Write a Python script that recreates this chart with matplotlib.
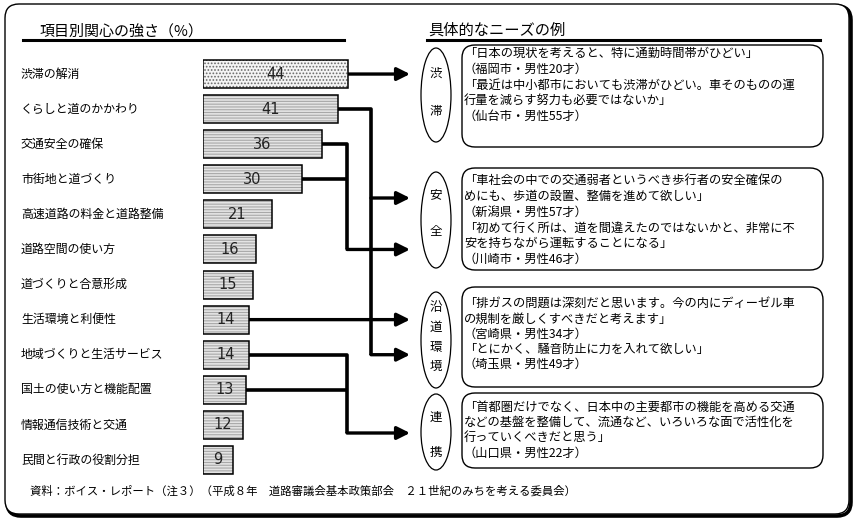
import matplotlib.pyplot as plt
from matplotlib.patches import FancyBboxPatch, Ellipse

plt.rcParams['font.family'] = ['Noto Sans CJK JP', 'DejaVu Sans']
plt.rcParams['hatch.linewidth'] = 0.8

# 項目別関心の強さ（%）
items = ['渋滞の解消', 'くらしと道のかかわり', '交通安全の確保', '市街地と道づくり',
         '高速道路の料金と道路整備', '道路空間の使い方', '道づくりと合意形成',
         '生活環境と利便性', '地域づくりと生活サービス', '国土の使い方と機能配置',
         '情報通信技術と交通', '民間と行政の役割分担']
values = [44, 41, 36, 30, 21, 16, 15, 14, 14, 13, 12, 9]

# 具体的なニーズの例
needs = ['渋滞', '安全', '沿道環境', '連携']
comments = [
    ['「日本の現状を考えると、特に通勤時間帯がひどい」',
     '（福岡市・男性20才）',
     '「最近は中小都市においても渋滞がひどい。車そのものの運',
     '行量を減らす努力も必要ではないか」',
     '（仙台市・男性55才）'],
    ['「車社会の中での交通弱者というべき歩行者の安全確保の',
     'めにも、歩道の設置、整備を進めて欲しい」',
     '（新潟県・男性57才）',
     '「初めて行く所は、道を間違えたのではないかと、非常に不',
     '安を持ちながら運転することになる」',
     '（川崎市・男性46才）'],
    ['「排ガスの問題は深刻だと思います。今の内にディーゼル車',
     'の規制を厳しくすべきだと考えます」',
     '（宮崎県・男性34才）',
     '「とにかく、騒音防止に力を入れて欲しい」',
     '（埼玉県・男性49才）'],
    ['「首都圏だけでなく、日本中の主要都市の機能を高める交通',
     'などの基盤を整備して、流通など、いろいろな面で活性化を',
     '行っていくべきだと思う」',
     '（山口県・男性22才）'],
]
source = '資料：ボイス・レポート（注３）（平成８年　道路審議会基本政策部会　２１世紀のみちを考える委員会）'

W, H = 857, 522
fig = plt.figure(figsize=(W / 100, H / 100), dpi=100)
ov = fig.add_axes([0, 0, 1, 1])
ov.set_xlim(0, W)
ov.set_ylim(H, 0)
ov.axis('off')

# outer frame with shadow on right / bottom
ov.add_patch(FancyBboxPatch((7, 6), 844, 510, boxstyle='round,pad=0,rounding_size=14',
                            fc='none', ec='k', lw=2.6, zorder=0))
ov.add_patch(FancyBboxPatch((5, 4), 844, 510, boxstyle='round,pad=0,rounding_size=14',
                            fc='white', ec='k', lw=1.0, zorder=0.5))

# titles
ov.text(40, 31, '項目別関心の強さ（%）', fontsize=10.8, va='center', ha='left')
ov.plot([23, 344], [40, 40], color='k', lw=2.2)
ov.text(428, 30, '具体的なニーズの例', fontsize=11, va='center', ha='left')
ov.plot([427, 820], [40, 40], color='k', lw=2.2)

# bar chart
axb = fig.add_axes([203 / W, (H - 477.5) / H, 165 / W, 421 / H])
axb.set_xlim(0, 50)
axb.set_ylim(len(values) - 0.5, -0.5)
axb.axis('off')
ypos = range(len(values))
fills = ['#f4f4f4'] + ['#e4e4e4'] * (len(values) - 1)
hatch_col = ['#6a6a6a'] + ['#a8a8a8'] * (len(values) - 1)
hatches = ['.....'] + ['------'] * (len(values) - 1)
for i, v in enumerate(values):
    axb.barh(i, v, height=0.8, color=fills[i], edgecolor=hatch_col[i], lw=0,
             hatch=hatches[i])
axb.barh(list(ypos), values, height=0.8, color='none', edgecolor='k', lw=1.1)
for i, v in enumerate(values):
    axb.text(v / 2, i, str(v), ha='center', va='center', fontsize=10.5,
             family='DejaVu Sans', color='#222222')

# category labels
for i, lab in enumerate(items):
    y = ov.transData.inverted().transform(axb.transData.transform((0, i)))[1]
    ov.text(21, y, lab, fontsize=8.6, va='center', ha='left')


def bar_end(i):
    return ov.transData.inverted().transform(axb.transData.transform((values[i], i)))


def arrow(x0, x1, y):
    ov.annotate('', xy=(x1, y), xytext=(x0, y),
                arrowprops=dict(arrowstyle='-|>,head_length=0.7,head_width=0.35',
                                lw=2.4, color='k', shrinkA=0, shrinkB=0,
                                mutation_scale=11))


def line(xs, ys):
    ov.plot(xs, ys, color='k', lw=2.6, solid_joinstyle='round', solid_capstyle='butt')


tip = 410
# 渋滞
x, y = bar_end(0)
arrow(x, tip, y)
# くらしと道のかかわり -> 安全 / 沿道環境
x, y = bar_end(1)
y8 = bar_end(8)[1]
line([x, 371, 371], [y, y, y8])
arrow(371, tip, 198)
arrow(371, tip, y8)
# 交通安全 / 市街地 -> 安全
x, y = bar_end(2)
y5 = bar_end(5)[1]
line([x, 347, 347], [y, y, y5])
x, y = bar_end(3)
line([x, 347], [y, y])
arrow(347, tip, y5)
# 生活環境 -> 沿道環境
x, y = bar_end(7)
arrow(x, tip, y)
# 地域づくり / 国土 -> 連携
x, y = bar_end(8)
line([x, 347, 347], [y, y, 433])
x, y = bar_end(9)
line([x, 347], [y, y])
arrow(347, tip, 433)

# need ellipses and comment boxes
ell_y = [95, 220, 340, 432]
ell_h = [94, 96, 96, 76]
box_y = [(45, 147), (168, 270), (287, 387), (393, 468)]
line_y = [[53, 69, 85, 100, 116],
          [180, 196, 212, 228, 243, 259],
          [303, 319, 334, 349, 364],
          [407, 422, 437, 453]]
char_y = [[73, 112], [195, 232], [307, 327, 347, 366], [417, 452]]

for k, name in enumerate(needs):
    ov.add_patch(Ellipse((436, ell_y[k]), 30, ell_h[k], fc='white', ec='k', lw=0.9))
    for ch, cy in zip(name, char_y[k]):
        ov.text(436, cy, ch, fontsize=9, ha='center', va='center')
    y0, y1 = box_y[k]
    ov.add_patch(FancyBboxPatch((462, y0), 361, y1 - y0,
                                boxstyle='round,pad=0,rounding_size=13',
                                fc='white', ec='k', lw=1.0))
    for txt, ty in zip(comments[k], line_y[k]):
        ov.text(464, ty, txt, fontsize=8.8, ha='left', va='center')

ov.text(30, 491, source, fontsize=8.2, ha='left', va='center')

fig.savefig('out.png', dpi=100)
